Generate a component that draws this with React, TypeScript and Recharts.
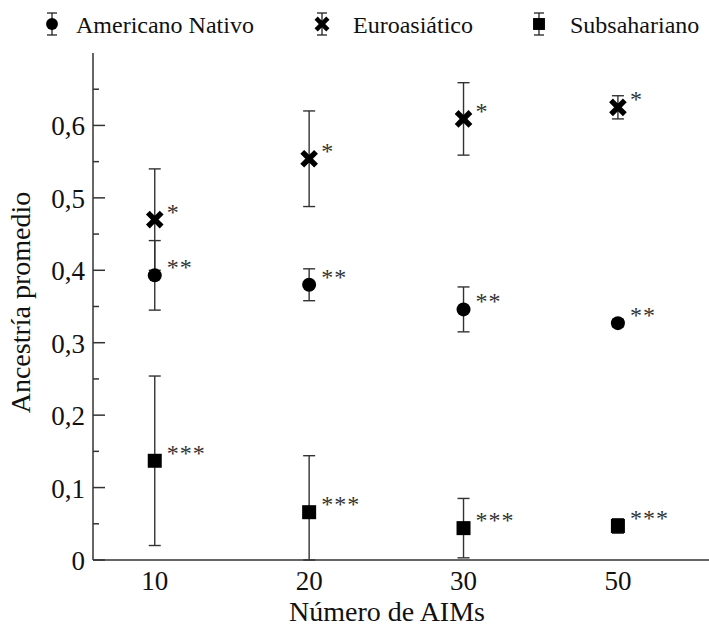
import React from 'react';
import { ScatterChart, Scatter, XAxis, YAxis, ErrorBar, Legend, Label } from 'recharts';

const categories = ['10', '20', '30', '50'];
const positions = [0, 1, 2, 3];
const seriesNames = ['Americano Nativo', 'Euroasiático', 'Subsahariano'];

const nativoValues = [0.393, 0.38, 0.346, 0.327];
const nativoErrors = [[0.048, 0.048], [0.022, 0.022], [0.031, 0.031], [0.005, 0.005]];
const nativoSig = ['**', '**', '**', '**'];

const euroValues = [0.47, 0.554, 0.609, 0.625];
const euroErrors = [[0.07, 0.07], [0.066, 0.066], [0.05, 0.05], [0.016, 0.016]];
const euroSig = ['*', '*', '*', '*'];

const subValues = [0.137, 0.066, 0.044, 0.047];
const subErrors = [[0.117, 0.117], [0.066, 0.078], [0.041, 0.041], [0.01, 0.01]];
const subSig = ['***', '***', '***', '***'];

const yTicks = [0, 0.05, 0.1, 0.15, 0.2, 0.25, 0.3, 0.35, 0.4, 0.45, 0.5, 0.55, 0.6, 0.65];

const FONT = '"Liberation Serif", "Times New Roman", serif';
const AXIS = '#333';

const build = (vals: number[], errs: number[][], sig: string[]) =>
  vals.map((v, i) => ({ pos: positions[i], cat: categories[i], value: v, err: errs[i], sig: sig[i] }));

const nativoData = build(nativoValues, nativoErrors, nativoSig);
const euroData = build(euroValues, euroErrors, euroSig);
const subData = build(subValues, subErrors, subSig);

type Kind = 'circle' | 'cross' | 'square';

const Marker = ({ kind, x, y, s = 1 }: { kind: Kind; x: number; y: number; s?: number }) => {
  if (kind === 'circle') return <circle cx={x} cy={y} r={7 * s} fill="#000" />;
  if (kind === 'square')
    return <rect x={x - 7 * s} y={y - 7 * s} width={14 * s} height={14 * s} fill="#000" />;
  const d = 5 * s;
  return (
    <g stroke="#000" strokeWidth={5.4 * s} strokeLinecap="square">
      <line x1={x - d} y1={y - d} x2={x + d} y2={y + d} />
      <line x1={x - d} y1={y + d} x2={x + d} y2={y - d} />
    </g>
  );
};

const makeShape = (kind: Kind) => (props: any) => {
  const { cx, cy, payload } = props;
  if (cx == null || cy == null) return <g />;
  return (
    <g>
      <Marker kind={kind} x={cx} y={cy} />
      <text x={cx + 12} y={cy} fontSize={24} fill="#333" fontFamily={FONT} letterSpacing={1}>
        {payload.sig}
      </text>
    </g>
  );
};

const YTick = (props: any) => {
  const { x, y, payload } = props;
  const v = payload.value;
  const major = Math.abs(Math.round(v * 10) - v * 10) < 1e-6;
  const label = (Math.round(v * 10) / 10).toString().replace('.', ',');
  return (
    <g>
      <line x1={x} y1={y} x2={x + (major ? 12 : 6)} y2={y} stroke={AXIS} strokeWidth={1.5} />
      {major && (
        <text x={x - 8} y={y + 10} textAnchor="end" fontSize={27} fontFamily={FONT} fill="#111">
          {label}
        </text>
      )}
    </g>
  );
};

const XTick = (props: any) => {
  const { x, y, payload } = props;
  return (
    <text x={x} y={y + 30} textAnchor="middle" fontSize={27} fontFamily={FONT} fill="#111">
      {categories[payload.value]}
    </text>
  );
};

const legendKinds: Kind[] = ['circle', 'cross', 'square'];
const legendIconX = [52, 322, 539];
const legendTextX = [76, 353, 570];

const LegendContent = () => (
  <div style={{ position: 'relative', width: 709, height: 45 }}>
    <svg width={709} height={45} style={{ position: 'absolute', left: 0, top: 0 }}>
      {seriesNames.map((name, i) => (
        <g key={name}>
          <g stroke="#222" strokeWidth={1.3}>
            <line x1={legendIconX[i]} y1={13} x2={legendIconX[i]} y2={35} />
            <line x1={legendIconX[i] - 5} y1={13} x2={legendIconX[i] + 5} y2={13} />
            <line x1={legendIconX[i] - 5} y1={35} x2={legendIconX[i] + 5} y2={35} />
          </g>
          <Marker kind={legendKinds[i]} x={legendIconX[i]} y={24} s={0.85} />
          <text x={legendTextX[i]} y={33} fontSize={24} fontFamily={FONT} fill="#111">
            {name}
          </text>
        </g>
      ))}
    </svg>
  </div>
);

const XTitle = (props: any) => {
  const vb = props.viewBox;
  return (
    <text x={vb.x + vb.width / 2 - 14} y={vb.y + 61} textAnchor="middle" fontSize={28} fontFamily={FONT} fill="#111">
      Número de AIMs
    </text>
  );
};

const YTitle = (props: any) => {
  const vb = props.viewBox;
  const cy = vb.y + vb.height / 2 - 4;
  return (
    <text
      x={30}
      y={cy}
      transform={`rotate(-90, 30, ${cy})`}
      textAnchor="middle"
      fontSize={28}
      fontFamily={FONT}
      fill="#111"
    >
      Ancestría promedio
    </text>
  );
};

export default function App() {
  return (
    <div style={{ position: 'absolute', left: 0, top: 0, width: 709, height: 635, background: '#fff' }}>
      <ScatterChart width={709} height={635} margin={{ top: 53, right: 0, bottom: 0, left: 0 }}>
        <XAxis
          type="number"
          dataKey="pos"
          domain={[-0.4, 3.59]}
          ticks={positions}
          interval={0}
          allowDataOverflow
          tick={<XTick />}
          tickLine={false}
          tickSize={0}
          tickMargin={0}
          height={75}
          axisLine={{ stroke: AXIS, strokeWidth: 1.5 }}
        >
          <Label content={<XTitle />} />
        </XAxis>
        <YAxis
          type="number"
          dataKey="value"
          domain={[0, 0.7]}
          ticks={yTicks}
          interval={0}
          allowDataOverflow
          tick={<YTick />}
          tickLine={false}
          tickSize={0}
          tickMargin={0}
          width={93}
          axisLine={{ stroke: AXIS, strokeWidth: 1.5 }}
        >
          <Label content={<YTitle />} />
        </YAxis>
        <Legend
          layout="horizontal"
          verticalAlign="middle"
          align="center"
          wrapperStyle={{ top: 0, left: 0, width: 709, height: 45 }}
          content={<LegendContent />}
        />
        <Scatter name={seriesNames[0]} data={nativoData} isAnimationActive={false} shape={makeShape('circle')}>
          <ErrorBar dataKey="err" direction="y" width={6} stroke={AXIS} strokeWidth={1.4} />
        </Scatter>
        <Scatter name={seriesNames[1]} data={euroData} isAnimationActive={false} shape={makeShape('cross')}>
          <ErrorBar dataKey="err" direction="y" width={6} stroke={AXIS} strokeWidth={1.4} />
        </Scatter>
        <Scatter name={seriesNames[2]} data={subData} isAnimationActive={false} shape={makeShape('square')}>
          <ErrorBar dataKey="err" direction="y" width={6} stroke={AXIS} strokeWidth={1.4} />
        </Scatter>
      </ScatterChart>
    </div>
  );
}
